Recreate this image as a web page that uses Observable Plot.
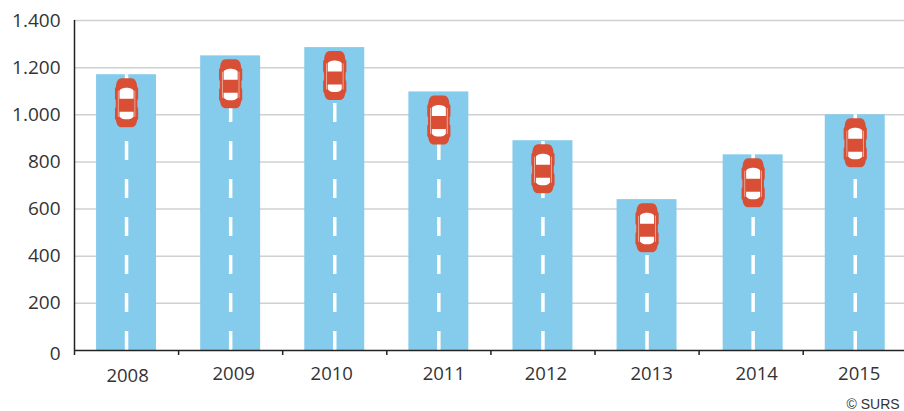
<!DOCTYPE html>
<html><head><meta charset="utf-8">
<script src="https://cdn.jsdelivr.net/npm/d3@7"></script>
<script src="https://cdn.jsdelivr.net/npm/@observablehq/plot@0.6"></script>
<style>html,body{margin:0;padding:0;background:#fff}svg{display:block}</style>
</head><body><div id="c"></div>
<script>
const years = [2008,2009,2010,2011,2012,2013,2014,2015];
const values = [1170,1250,1285,1097,890,640,830,1000];
const yTicks = [200,400,600,800,1000,1200,1400];
const zeroTick = [0];
const xBoundaries = [2007.5,2008.5,2009.5,2010.5,2011.5,2012.5,2013.5,2014.5];
const source = "© SURS";

const fmt = d => d >= 1000 ? String(d).replace(/(\d)(\d{3})$/, "$1.$2") : String(d);
const rows = years.map((year,i)=>({year,value:values[i]}));
const labelNudge = {2008:[1,2],2009:[3,0],2010:[-3,0],2011:[5,0],2012:[3,0],2013:[4.5,0],2014:[5.5,0],2015:[4,0]};
const barNudge = {2014:2};
const halfBar = 0.288;

const carSvg = `<svg xmlns="http://www.w3.org/2000/svg" width="26" height="50" viewBox="0 0 26 50">
<path fill="#d84f36" d="M8 0.5 H18 C21.5 0.5 23.3 4 23.6 9 L24.6 10.5 V21 L23.8 22.5 V29 L24.6 31 V41 L23.6 42.5 C23 47 21 49.5 18 49.5 H8 C5 49.5 3 47 2.4 42.5 L1.4 41 V31 L2.2 29 V22.5 L1.4 21 V10.5 L2.4 9 C2.7 4 4.5 0.5 8 0.5 Z"/>
<path fill="#fff" d="M6 13 C6.5 11 10 10 13 10 C16 10 19.500 11 20 13 L20 21 H6 Z"/>
<path fill="#fff" d="M6 34 H20 V38.500 C19 41 16 41.500 13 41.500 C10 41.500 7 41 6 38.500 Z"/>
<path fill="#f6c8bb" d="M4.300 13 H5 V39 H4.300 Z M21 13 H21.700 V39 H21 Z"/>
</svg>`;
const carSrc = "data:image/svg+xml;utf8," + encodeURIComponent(carSvg);
const font = "'Open Sans','Noto Sans',sans-serif";

const plot = Plot.plot({
  width:904,height:411,marginLeft:74,marginRight:0,marginTop:20,marginBottom:61,
  style:{background:"#fff",fontFamily:font,overflow:"hidden"},
  x:{type:"linear",domain:[2007.5,2015.5],range:[74,906.8],axis:null},
  y:{domain:[0,1400],range:[350,20],axis:null},
  marks:[
    Plot.gridY(yTicks,{stroke:"#d0d0d0",strokeOpacity:1,strokeWidth:1.5}),
    ...years.map((yr,i)=>{
      const dx = barNudge[yr]||0;
      const r=[rows[i]];
      return [
        Plot.rectY(r,{x1:d=>d.year-halfBar,x2:d=>d.year+halfBar,y1:0,y2:"value",fill:"#85cbeb",dx}),
        Plot.ruleX(r,{x:"year",y1:0,y2:"value",stroke:"#fff",strokeWidth:3.5,strokeDasharray:"19 19",dx}),
        Plot.image(r,{x:"year",y:"value",src:()=>carSrc,width:26,height:50,dy:28,dx})
      ];
    }),
    Plot.ruleY([0],{stroke:"#222",strokeWidth:1.5}),
    Plot.ruleX([2007.5],{y1:0,y2:1400,stroke:"#222",strokeWidth:1.5}),
    Plot.axisX(xBoundaries,{anchor:"bottom",tickSize:5,tickFormat:()=>"",stroke:"#222",strokeWidth:1.5,tickPadding:0,label:null}),
    Plot.axisY(yTicks,{anchor:"left",tickSize:0,tickPadding:14,tickFormat:fmt,fontSize:19,fill:"#333",label:null}),
    Plot.axisY(zeroTick,{anchor:"left",tickSize:0,tickPadding:14,tickFormat:fmt,fontSize:19,fill:"#333",label:null,dy:3}),
    ...years.map(yr=>Plot.text([yr],{x:d=>d,frameAnchor:"bottom",text:d=>String(d),fontSize:18.5,fill:"#333",lineAnchor:"middle",dx:labelNudge[yr][0],dy:24+labelNudge[yr][1]})),
    Plot.text([source],{frameAnchor:"bottom-left",text:d=>d,textAnchor:"start",lineAnchor:"bottom",dx:772,dy:58,fontSize:14,fontFamily:"'Liberation Sans',Arial,sans-serif",fill:"#333"})
  ]
});
document.getElementById("c").append(plot);
</script></body></html>
